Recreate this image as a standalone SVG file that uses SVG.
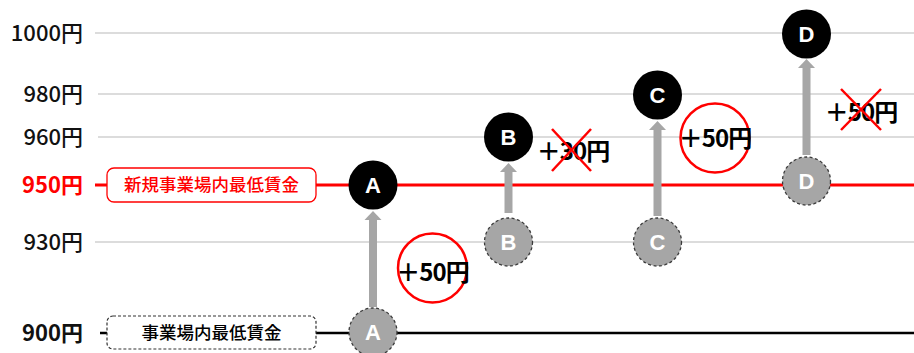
<svg xmlns="http://www.w3.org/2000/svg" width="914" height="353" viewBox="0 0 914 353">
<style>
.grid{stroke:#d0d0d0;stroke-width:1.5;fill:none}
.axis{font-family:"Noto Sans CJK JP","Noto Sans",sans-serif;font-size:22px;font-weight:500;text-anchor:end;fill:#111}
.bold{font-weight:bold}
.boxt{font-family:"Noto Sans CJK JP",sans-serif;font-size:17.5px;font-weight:500;text-anchor:middle}
.blk{fill:#000}
.gry{fill:#a6a6a6;stroke:#3a3a3a;stroke-width:1.3;stroke-dasharray:3 2.5}
.lt{font-family:"Liberation Sans","Noto Sans",sans-serif;font-size:22px;font-weight:bold;fill:#fff;text-anchor:middle}
.shaft{stroke:#a6a6a6;stroke-width:8;fill:none}
.head{fill:#a6a6a6}
.inc{font-family:"Noto Sans CJK JP",sans-serif;font-size:24px;font-weight:bold;fill:#000;text-anchor:middle;letter-spacing:-1px}
.rc{fill:none;stroke:#ff0000;stroke-width:2.5}
.x{stroke:#ff0000;stroke-width:2.5}
</style>
<rect width="914" height="353" fill="#fff"/>
<g id="gridlines">
<line class="grid" x1="95" y1="33" x2="914" y2="33"/>
<line class="grid" x1="98" y1="94" x2="914" y2="94"/>
<line class="grid" x1="98" y1="137" x2="914" y2="137"/>
<line class="grid" x1="95" y1="242" x2="914" y2="242"/>
</g>
<g id="axis-labels">
<text class="axis" x="83" y="41">1000円</text>
<text class="axis" x="83" y="102">980円</text>
<text class="axis" x="83" y="145">960円</text>
<text class="axis bold" x="83" y="193" style="fill:#ff0000">950円</text>
<text class="axis" x="83" y="250">930円</text>
<text class="axis bold" x="83" y="341">900円</text>
</g>
<g id="base-lines">
<line x1="95" y1="185" x2="914" y2="185" stroke="#ff0000" stroke-width="3"/>
<line x1="100" y1="333" x2="914" y2="333" stroke="#000" stroke-width="2.5"/>
</g>
<g id="new-min-wage-box">
<rect x="107" y="168" width="209" height="34" rx="7" fill="#fff" stroke="#ff0000" stroke-width="1.3"/>
<text class="boxt" x="211.5" y="191" fill="#ff0000">新規事業場内最低賃金</text>
</g>
<g id="min-wage-box">
<rect x="107" y="316" width="209" height="33" rx="6" fill="#fff" stroke="#333" stroke-width="1.2" stroke-dasharray="3 2"/>
<text class="boxt" x="211.5" y="339" fill="#000">事業場内最低賃金</text>
</g>
<g id="connectors">
<line class="shaft" x1="373" y1="307" x2="373" y2="219"/>
<path class="head" d="M364.5,220 L373,211 L381.5,220 Z"/>
<line class="shaft" x1="508.5" y1="213" x2="508.5" y2="171"/>
<path class="head" d="M500,172 L508.5,163 L517,172 Z"/>
<line class="shaft" x1="657.5" y1="216" x2="657.5" y2="129"/>
<path class="head" d="M649,130 L657.5,121 L666,130 Z"/>
<line class="shaft" x1="806.5" y1="155" x2="806.5" y2="67"/>
<path class="head" d="M798,68 L806.5,59 L815,68 Z"/>
</g>
<g id="node-A-before"><circle class="gry" cx="373" cy="332" r="24"/><text class="lt" x="373" y="340">A</text></g>
<g id="node-A-after"><circle class="blk" cx="373" cy="185" r="24.5"/><text class="lt" x="373" y="193">A</text></g>
<g id="node-B-before"><circle class="gry" cx="508.5" cy="242" r="24"/><text class="lt" x="508.5" y="250">B</text></g>
<g id="node-B-after"><circle class="blk" cx="508.5" cy="137" r="24.5"/><text class="lt" x="508.5" y="145">B</text></g>
<g id="node-C-before"><circle class="gry" cx="657.5" cy="242" r="24"/><text class="lt" x="657.5" y="250">C</text></g>
<g id="node-C-after"><circle class="blk" cx="657.5" cy="95" r="24.5"/><text class="lt" x="657.5" y="103">C</text></g>
<g id="node-D-before"><circle class="gry" cx="806.5" cy="181" r="24"/><text class="lt" x="806.5" y="189">D</text></g>
<g id="node-D-after"><circle class="blk" cx="806.5" cy="34" r="24.5"/><text class="lt" x="806.5" y="42">D</text></g>
<g id="inc-A"><circle class="rc" cx="432.5" cy="268" r="34.5"/><text class="inc" x="432.5" y="281">＋50円</text></g>
<g id="inc-B"><text class="inc" x="573" y="160">＋30円</text><line class="x" x1="552" y1="129" x2="591" y2="171"/><line class="x" x1="591" y1="129" x2="552" y2="171"/></g>
<g id="inc-C"><circle class="rc" cx="715" cy="138" r="34.5"/><text class="inc" x="715" y="147">＋50円</text></g>
<g id="inc-D"><text class="inc" x="861" y="121">＋50円</text><line class="x" x1="841" y1="89" x2="881" y2="130"/><line class="x" x1="881" y1="89" x2="841" y2="130"/></g>
</svg>
